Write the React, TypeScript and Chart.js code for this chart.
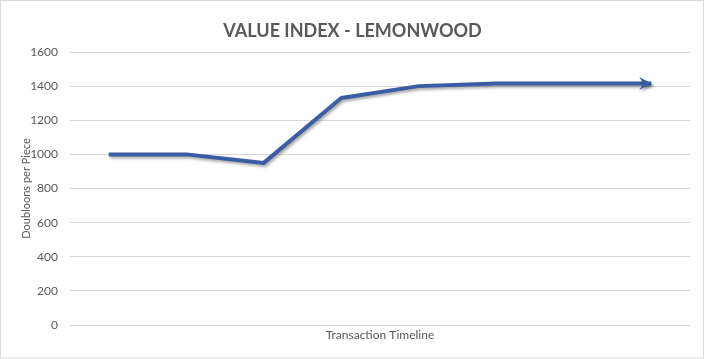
import React, { useEffect, useRef } from "react";
import { Chart, registerables } from "chart.js";

Chart.register(...registerables);

const categories = ["1", "2", "3", "4", "5", "6", "7", "8"];
const values = [1000, 1000, 950, 1330, 1400, 1415, 1415, 1415];
const yTicks = [0, 200, 400, 600, 800, 1000, 1200, 1400, 1600];
const titleText = "VALUE INDEX - LEMONWOOD";
const yTitle = "Doubloons per Piece";
const xTitle = "Transaction Timeline";

const LINE = "#3A5DA4";
const TEXT = "#595959";
const FONT = "Lato, 'Open Sans', sans-serif";

const framePlugin = {
  id: "frame",
  afterDraw(chart: any) {
    const ctx = chart.ctx;
    ctx.save();
    ctx.strokeStyle = "#d9d9d9";
    ctx.lineWidth = 1;
    ctx.strokeRect(0.5, 0.5, chart.width - 2, chart.height - 1.5);
    ctx.restore();
  },
};

const shadowPlugin = {
  id: "lineShadow",
  beforeDatasetsDraw(chart: any) {
    const ctx = chart.ctx;
    ctx.save();
    ctx.shadowColor = "rgba(0,0,0,0.35)";
    ctx.shadowBlur = 3;
    ctx.shadowOffsetX = 1.5;
    ctx.shadowOffsetY = 2;
  },
  afterDatasetsDraw(chart: any) {
    const ctx = chart.ctx;
    const meta = chart.getDatasetMeta(0);
    const pts = meta.data;
    if (pts.length >= 2) {
      const a = pts[pts.length - 2];
      const b = pts[pts.length - 1];
      const ang = Math.atan2(b.y - a.y, b.x - a.x);
      const len = 12;
      const half = 6.5;
      ctx.fillStyle = LINE;
      ctx.beginPath();
      ctx.moveTo(b.x, b.y);
      const bx = b.x - Math.cos(ang) * len;
      const by = b.y - Math.sin(ang) * len;
      ctx.lineTo(bx - Math.sin(ang) * half, by + Math.cos(ang) * half);
      ctx.lineTo(b.x - Math.cos(ang) * len * 0.65, b.y - Math.sin(ang) * len * 0.65);
      ctx.lineTo(bx + Math.sin(ang) * half, by - Math.cos(ang) * half);
      ctx.closePath();
      ctx.fill();
    }
    ctx.restore();
  },
};

export default function App() {
  const ref = useRef<HTMLCanvasElement>(null);
  useEffect(() => {
    if (!ref.current) return;
    const chart = new Chart(ref.current, {
      type: "line",
      data: {
        labels: categories,
        datasets: [
          {
            data: values,
            borderColor: LINE,
            borderWidth: 4,
            pointRadius: 0,
            pointHoverRadius: 0,
            tension: 0,
            fill: false,
            borderJoinStyle: "round",
          },
        ],
      },
      plugins: [shadowPlugin, framePlugin],
      options: {
        responsive: false,
        animation: false,
        devicePixelRatio: 1,
        layout: { padding: 0 },
        plugins: {
          legend: { display: false },
          tooltip: { enabled: false },
          title: {
            display: true,
            text: titleText,
            color: TEXT,
            font: { family: FONT, size: 18, weight: "bold", lineHeight: 1.2 },
            padding: { top: 20, bottom: 10.4 },
          },
        },
        scales: {
          x: {
            type: "category",
            offset: true,
            grid: { display: false, drawTicks: false },
            border: { display: false },
            ticks: { display: false },
            title: {
              display: true,
              text: xTitle,
              color: TEXT,
              font: { family: FONT, size: 12, lineHeight: 1.2 },
              padding: { top: 0, bottom: 16.8 },
            },
            afterFit(scale: any) {
              scale.height = 34;
            },
          },
          y: {
            min: 0,
            max: 1600,
            afterBuildTicks(scale: any) {
              scale.ticks = yTicks.map((v) => ({ value: v }));
            },
            grid: { color: "#d9d9d9", lineWidth: 1, drawTicks: false },
            border: { display: false },
            ticks: {
              color: TEXT,
              font: { family: FONT, size: 12 },
              padding: 12,
              callback: (v: any) => String(v),
            },
            title: {
              display: true,
              text: yTitle,
              color: TEXT,
              font: { family: FONT, size: 11, lineHeight: 1.2 },
              padding: { top: 20, bottom: 0 },
            },
            afterFit(scale: any) {
              scale.width = 70;
            },
          },
          spacer: {
            type: "linear",
            position: "right",
            display: true,
            grid: { display: false, drawTicks: false },
            border: { display: false },
            ticks: { display: false },
            afterFit(scale: any) {
              scale.width = 15;
            },
          },
        },
      },
    } as any);
    return () => chart.destroy();
  }, []);
  return (
    <div style={{ position: "fixed", left: 0, top: 0, width: 705, height: 359, background: "#fff" }}>
      <canvas ref={ref} width={705} height={359} style={{ display: "block" }} />
    </div>
  );
}
